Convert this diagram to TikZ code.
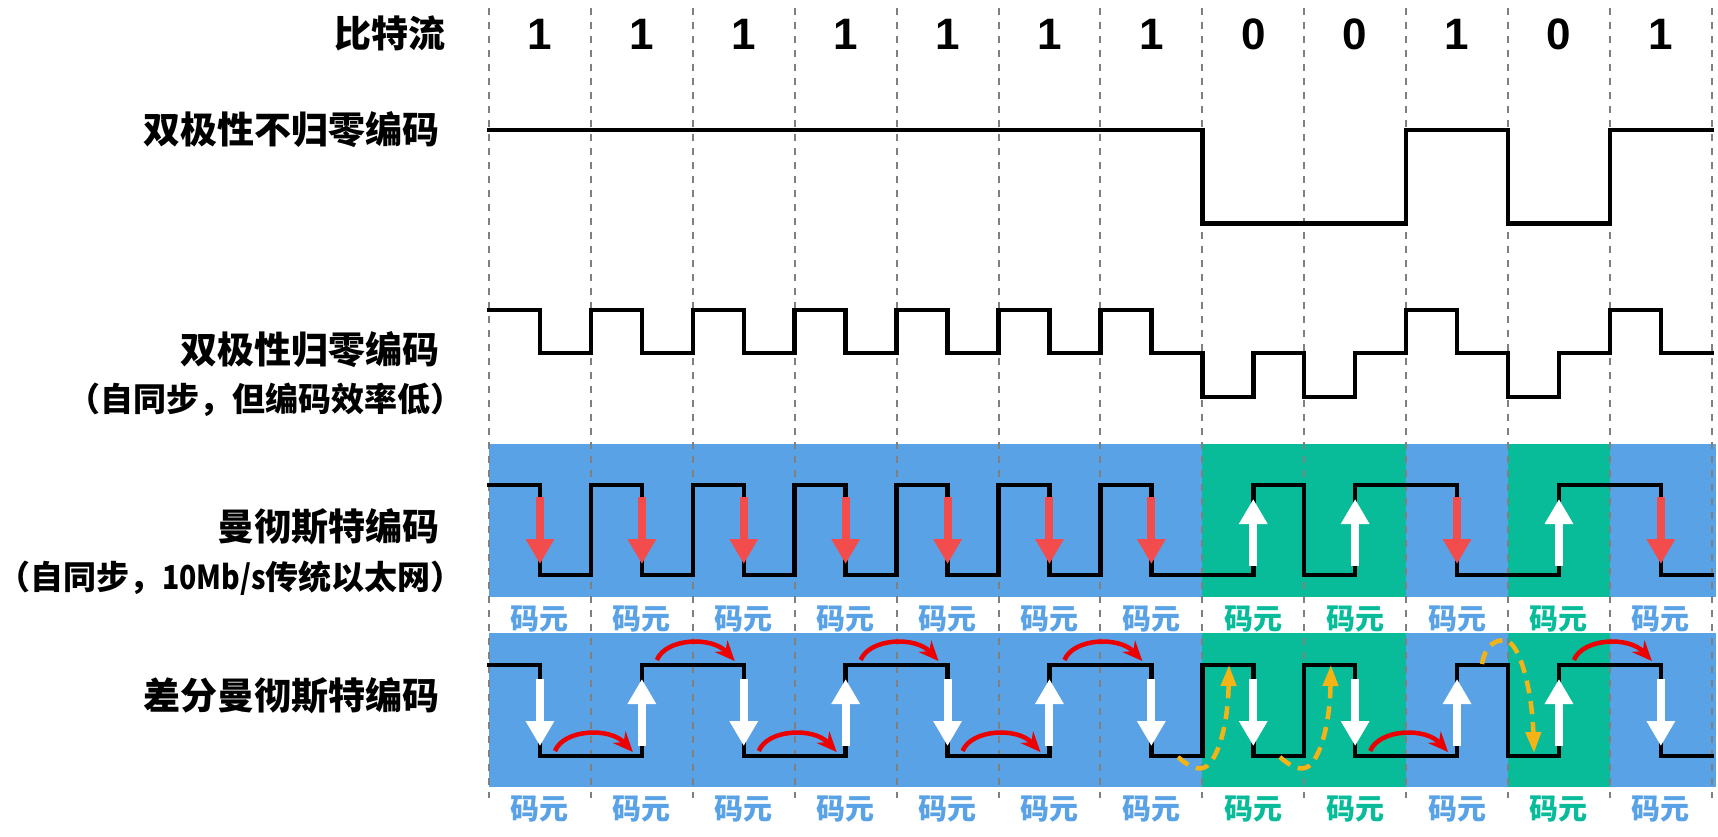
\documentclass[tikz,border=0pt]{standalone}
\usepackage{fontspec}
\usepackage{graphicx}
\setmainfont{Liberation Sans}
\newfontfamily\cjk{Noto Sans CJK SC}
\usetikzlibrary{arrows.meta}
\definecolor{bandblue}{RGB}{90,162,230}
\definecolor{bandgreen}{RGB}{8,187,153}
\definecolor{arrred}{RGB}{242,76,76}
\definecolor{arcred}{RGB}{236,0,0}
\definecolor{dorange}{RGB}{245,180,22}
\definecolor{gridgray}{RGB}{128,128,128}
\tikzset{
 wave/.style={line width=4.5pt, black, line join=miter, line cap=rect},
 gridline/.style={gridgray, line width=2pt, dash pattern=on 7pt off 7pt},
 lab/.style={anchor=east, inner sep=0pt, font=\cjk\bfseries\fontsize{37}{44}\selectfont},
 sublab/.style={anchor=east, inner sep=0pt, font=\cjk\bfseries\fontsize{33}{39}\selectfont},
 bitlab/.style={inner sep=0pt, font=\bfseries\fontsize{44}{50}\selectfont},
 cellb/.style={inner sep=0pt, font=\cjk\bfseries\fontsize{29}{34}\selectfont},
 redblock/.style={arrred, line width=8pt, -{Triangle[length=25pt,width=27pt]}},
 whiteblock/.style={white, line width=8pt, -{Triangle[length=25pt,width=27pt]}},
 redarc/.style={arcred, line width=4.5pt, -{Stealth[length=20pt,width=17pt]}},
 odash/.style={dorange, line width=4.5pt, dash pattern=on 13pt off 8pt, -{Triangle[length=21pt,width=15pt]}},
}
\begin{document}
\begin{tikzpicture}[x=1pt,y=-1pt]
\useasboundingbox (0,0) rectangle (1718,836);
% bands
\fill[bandblue] (489,444) rectangle (1716,597);
\fill[bandgreen] (1202.3,444) rectangle (1406.1,597);
\fill[bandgreen] (1508,444) rectangle (1609.9,597);
\fill[bandblue] (489,633) rectangle (1716,787);
\fill[bandgreen] (1202.3,633) rectangle (1406.1,787);
\fill[bandgreen] (1508,633) rectangle (1609.9,787);
% grid
\foreach \k in {0,...,12} \draw[gridline] ({489+101.9*\k},8) -- ({489+101.9*\k},798);
% labels
\node[lab] (hdr) at (446,33) {比特流};
\node[lab] (nrz) at (440,130) {双极性不归零编码};
\node[lab] (rz) at (440,350) {双极性归零编码};
\node[sublab] (rzs) at (464,400) {（自同步，但编码效率低）};
\node[lab] (man) at (440,527) {曼彻斯特编码};
\node[sublab] (mans) at (464,578) {（自同步，\scalebox{0.86}[1]{10Mb/s}传统以太网）};
\node[lab] (dman) at (440,696) {差分曼彻斯特编码};
% bits and cell labels
\foreach \b/\c [count=\i from 0] in {1/bandblue,1/bandblue,1/bandblue,1/bandblue,1/bandblue,1/bandblue,1/bandblue,0/bandgreen,0/bandgreen,1/bandblue,0/bandgreen,1/bandblue}{
  \node[bitlab] (bit\i) at ({539.95+101.9*\i},34) {\b};
  \node[cellb, text=\c] (ma\i) at ({539.95+101.9*\i},619.5) {码元};
  \node[cellb, text=\c] (mb\i) at ({539.95+101.9*\i},809) {码元};
}
% NRZ
\draw[wave] (489,130) -- (1202.3,130) -- (1202.3,223.5) -- (1406.1,223.5) -- (1406.1,130) -- (1508,130) -- (1508,223.5) -- (1609.9,223.5) -- (1609.9,130) -- (1711.8,130);
% RZ
\draw[wave] (489,310) -- (539.95,310) -- (539.95,353) -- (590.9,353) -- (590.9,310) -- (641.85,310) -- (641.85,353) -- (692.8,353) -- (692.8,310) -- (743.75,310) -- (743.75,353) -- (794.7,353) -- (794.7,310) -- (845.65,310) -- (845.65,353) -- (896.6,353) -- (896.6,310) -- (947.55,310) -- (947.55,353) -- (998.5,353) -- (998.5,310) -- (1049.45,310) -- (1049.45,353) -- (1100.4,353) -- (1100.4,310) -- (1151.35,310) -- (1151.35,353) -- (1202.3,353) -- (1202.3,397) -- (1253.25,397) -- (1253.25,353) -- (1304.2,353) -- (1304.2,397) -- (1355.15,397) -- (1355.15,353) -- (1406.1,353) -- (1406.1,310) -- (1457.05,310) -- (1457.05,353) -- (1508,353) -- (1508,397) -- (1558.95,397) -- (1558.95,353) -- (1609.9,353) -- (1609.9,310) -- (1660.85,310) -- (1660.85,353) -- (1711.8,353);
% Manchester
\draw[wave] (489,485) -- (539.95,485) -- (539.95,575) -- (590.9,575) -- (590.9,485) -- (641.85,485) -- (641.85,575) -- (692.8,575) -- (692.8,485) -- (743.75,485) -- (743.75,575) -- (794.7,575) -- (794.7,485) -- (845.65,485) -- (845.65,575) -- (896.6,575) -- (896.6,485) -- (947.55,485) -- (947.55,575) -- (998.5,575) -- (998.5,485) -- (1049.45,485) -- (1049.45,575) -- (1100.4,575) -- (1100.4,485) -- (1151.35,485) -- (1151.35,575) -- (1253.25,575) -- (1253.25,485) -- (1304.2,485) -- (1304.2,575) -- (1355.15,575) -- (1355.15,485) -- (1457.05,485) -- (1457.05,575) -- (1558.95,575) -- (1558.95,485) -- (1660.85,485) -- (1660.85,575) -- (1711.8,575);
\foreach \i in {0,1,2,3,4,5,6,9,11} \draw[redblock] ({539.95+101.9*\i},497) -- ({539.95+101.9*\i},564);
\foreach \i in {7,8,10} \draw[whiteblock] ({539.95+101.9*\i},566) -- ({539.95+101.9*\i},499);
% Differential Manchester
\draw[wave] (489,665) -- (539.95,665) -- (539.95,756) -- (641.85,756) -- (641.85,665) -- (743.75,665) -- (743.75,756) -- (845.65,756) -- (845.65,665) -- (947.55,665) -- (947.55,756) -- (1049.45,756) -- (1049.45,665) -- (1151.35,665) -- (1151.35,756) -- (1202.3,756) -- (1202.3,665) -- (1253.25,665) -- (1253.25,756) -- (1304.2,756) -- (1304.2,665) -- (1355.15,665) -- (1355.15,756) -- (1457.05,756) -- (1457.05,665) -- (1508,665) -- (1508,756) -- (1558.95,756) -- (1558.95,665) -- (1660.85,665) -- (1660.85,756) -- (1711.8,756);
\foreach \i in {0,2,4,6,7,8,11} \draw[whiteblock] ({539.95+101.9*\i},679) -- ({539.95+101.9*\i},746);
\foreach \i in {1,3,5,9,10} \draw[whiteblock] ({539.95+101.9*\i},746) -- ({539.95+101.9*\i},679);
\foreach \k in {0,2,4,8} \draw[redarc] ({539.95+101.9*\k+15},751) .. controls ({539.95+101.9*\k+24},729) and ({539.95+101.9*(\k+1)-32},727) .. ({539.95+101.9*(\k+1)-9},752);
\foreach \k in {1,3,5,10} \draw[redarc] ({539.95+101.9*\k+15},660) .. controls ({539.95+101.9*\k+24},638) and ({539.95+101.9*(\k+1)-32},636) .. ({539.95+101.9*(\k+1)-9},661);
\foreach \s in {0,101.9} \draw[odash] ({1178+\s},757) .. controls ({1188+\s},766) and ({1199+\s},772) .. ({1207+\s},766) .. controls ({1220+\s},755) and ({1228+\s},720) .. ({1229+\s},665);
\draw[odash] (1482,664) .. controls (1485,645) and (1497,638) .. (1507,641) .. controls (1520,645) and (1532,690) .. (1534,753);
\end{tikzpicture}
\end{document}
